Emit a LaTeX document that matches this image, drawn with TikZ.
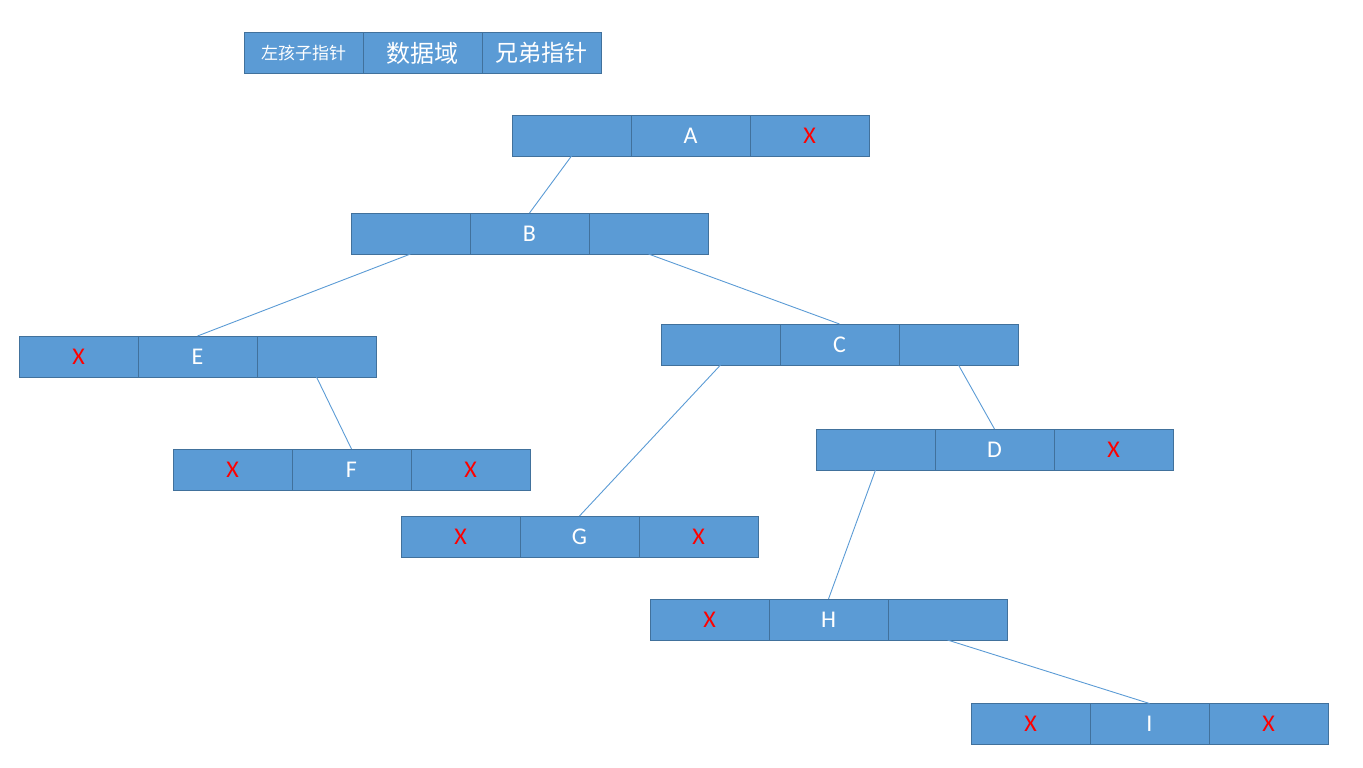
\documentclass[tikz,border=0pt]{standalone}
\usepackage{fontspec}
\setmainfont{Carlito}
\newfontfamily\cjk{Noto Sans CJK SC}
\usetikzlibrary{positioning}
\definecolor{cellblue}{HTML}{5B9BD5}
\definecolor{cellline}{HTML}{41719C}
\newcommand{\nil}{\textcolor{red}{X}}
\begin{document}
\begin{tikzpicture}[x=1pt, y=-1pt, font=\fontsize{24}{26}\selectfont,
    cell/.style={draw=cellline, fill=cellblue, line width=0.9pt, text=white,
      minimum width=119pt, minimum height=41pt, inner sep=0pt, outer sep=0pt},
    link/.style={draw=cellblue, line width=0.9pt}]
  \useasboundingbox (0,0) rectangle (1363,768);
  % legend: left child / data / sibling
  \node[cell, font=\cjk\fontsize{17}{19}\selectfont] (key1) at (303.5,53) {左孩子指针};
  \node[cell, right=0pt of key1, font=\cjk\fontsize{24}{26}\selectfont] (key2) {数据域};
  \node[cell, right=0pt of key2, font=\cjk\fontsize{23}{25}\selectfont] (key3) {兄弟指针};
  % records
  \node[cell] (A2) at (690.5,135.5) {A};
  \node[cell, left=0pt of A2] (A1) {};
  \node[cell, right=0pt of A2] (A3) {\nil};
  \node[cell] (B2) at (529.5,233.5) {B};
  \node[cell, left=0pt of B2] (B1) {};
  \node[cell, right=0pt of B2] (B3) {};
  \node[cell] (E2) at (197.5,356.5) {E};
  \node[cell, left=0pt of E2] (E1) {\nil};
  \node[cell, right=0pt of E2] (E3) {};
  \node[cell] (C2) at (839.5,344.5) {C};
  \node[cell, left=0pt of C2] (C1) {};
  \node[cell, right=0pt of C2] (C3) {};
  \node[cell] (F2) at (351.5,469.5) {F};
  \node[cell, left=0pt of F2] (F1) {\nil};
  \node[cell, right=0pt of F2] (F3) {\nil};
  \node[cell] (D2) at (994.5,449.5) {D};
  \node[cell, left=0pt of D2] (D1) {};
  \node[cell, right=0pt of D2] (D3) {\nil};
  \node[cell] (G2) at (579.5,536.5) {G};
  \node[cell, left=0pt of G2] (G1) {\nil};
  \node[cell, right=0pt of G2] (G3) {\nil};
  \node[cell] (H2) at (828.5,619.5) {H};
  \node[cell, left=0pt of H2] (H1) {\nil};
  \node[cell, right=0pt of H2] (H3) {};
  \node[cell] (I2) at (1149.5,724) {I};
  \node[cell, left=0pt of I2] (I1) {\nil};
  \node[cell, right=0pt of I2] (I3) {\nil};
  % pointers
  \draw[link] (A1.south) -- (B2.north);
  \draw[link] (B1.south) -- (E2.north);
  \draw[link] (B3.south) -- (C2.north);
  \draw[link] (E3.south) -- (F2.north);
  \draw[link] (C1.south) -- (G2.north);
  \draw[link] (C3.south) -- (D2.north);
  \draw[link] (D1.south) -- (H2.north);
  \draw[link] (H3.south) -- (I2.north);
\end{tikzpicture}
\end{document}
